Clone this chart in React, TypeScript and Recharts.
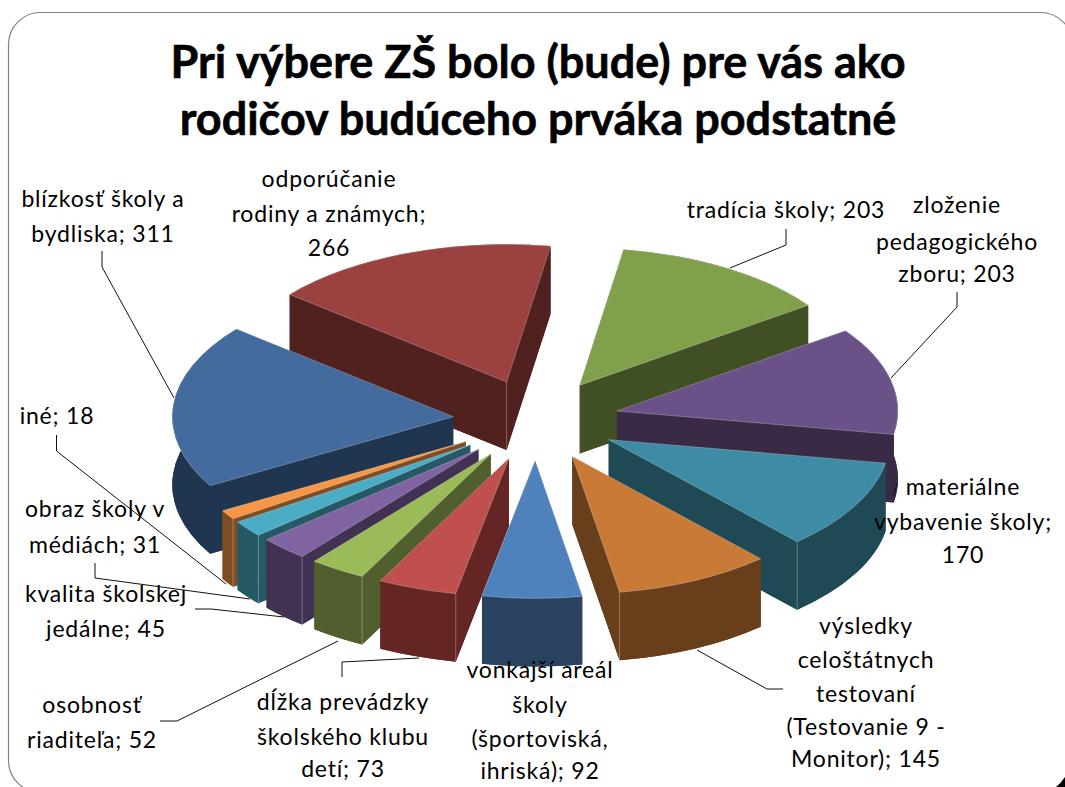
import { PieChart, Pie } from "recharts"

const categories = [
  "tradícia školy",
  "zloženie pedagogického zboru",
  "materiálne vybavenie školy",
  "výsledky celoštátnych testovaní (Testovanie 9 - Monitor)",
  "vonkajší areál školy (športoviská, ihriská)",
  "dĺžka prevádzky školského klubu detí",
  "osobnosť riaditeľa",
  "kvalita školskej jedálne",
  "obraz školy v médiách",
  "iné",
  "blízkosť školy a bydliska",
  "odporúčanie rodiny a známych",
]
const values = [203, 203, 170, 145, 92, 73, 52, 45, 31, 18, 311, 266]

const titleLines = ["Pri výbere ZŠ bolo (bude) pre vás ako", "rodičov budúceho prváka podstatné"]

const labelLines = [
  ["tradícia školy;"],
  ["zloženie", "pedagogického", "zboru;"],
  ["materiálne", "vybavenie školy;", ""],
  ["výsledky", "celoštátnych", "testovaní", "(Testovanie 9 -", "Monitor);"],
  ["vonkajší areál", "školy", "(športoviská,", "ihriská);"],
  ["dĺžka prevádzky", "školského klubu", "detí;"],
  ["osobnosť", "riaditeľa;"],
  ["kvalita školskej", "jedálne;"],
  ["obraz školy v", "médiách;"],
  ["iné;"],
  ["blízkosť školy a", "bydliska;"],
  ["odporúčanie", "rodiny a známych;", ""],
]

// top face / side wall colours, same order as categories
const topColors = ["#80A04B", "#6A5187", "#3E8BA5", "#C97A36", "#4F81BD", "#C0504D", "#9BBB59", "#8064A2", "#4BACC6", "#F79646", "#436B9E", "#9B4140"]
const wallColors = ["#414F24", "#392A46", "#1F4955", "#683E1B", "#29425F", "#632624", "#505F2D", "#413152", "#265966", "#7F4D24", "#203550", "#51211F"]

// back slices first, so the front ones cover them
const paintOrder = [11, 0, 10, 1, 2, 3, 9, 8, 7, 6, 5, 4]

// where each label sits: centre x, baseline of each line
const labelX = [786, 957, 963, 866, 540, 343, 92, 106, 95, 57, 103, 329]
const labelY = [
  [218],
  [213, 250, 282],
  [495, 530, 563],
  [634, 668, 702, 735, 767],
  [678, 713, 747, 779],
  [710, 745, 777],
  [713, 748],
  [602, 637],
  [517, 553],
  [424],
  [207, 242],
  [187, 222, 256],
]
const leaders = [
  "786,229 786,245 730,268",
  "957,292 957,307 891,378",
  "897,483 894,495",
  "783,689 767,689 697,650",
  "",
  "342,677 342,662 419,658",
  "160,721 177,721 338,641",
  "195,609 211,609 284,617",
  "95,563 95,578 250,599",
  "56.5,435 56.5,451 226,584",
  "102,251 102,267 174,398",
  "",
]

const W = 1065
const H = 787
const CX = 536
const CY = 420
const RADIUS = 281
const SQUASH = 0.49
const EXPLODE = 83
const DEPTH = 68
const FONT = "Lato, 'Open Sans', sans-serif"

const chartData = categories.map((name, i) => ({ name, value: values[i], index: i }))

function Slice3D(props: any, only: number) {
  const { cx, cy, outerRadius, startAngle, endAngle, payload } = props
  if (payload.index !== only) return <g />
  const rad = Math.PI / 180
  const mid = ((startAngle + endAngle) / 2) * rad
  const ox = cx + EXPLODE * Math.cos(mid)
  const oy = cy - EXPLODE * Math.sin(mid) * SQUASH
  const rx = outerRadius
  const ry = outerRadius * SQUASH
  const sx = ox + rx * Math.cos(startAngle * rad)
  const sy = oy - ry * Math.sin(startAngle * rad)
  const ex = ox + rx * Math.cos(endAngle * rad)
  const ey = oy - ry * Math.sin(endAngle * rad)
  const large = Math.abs(startAngle - endAngle) > 180 ? 1 : 0

  const wedge = (dy: number) =>
    `M${ox},${oy + dy}L${sx},${sy + dy}A${rx},${ry} 0 ${large} 1 ${ex},${ey + dy}Z`
  const wall = (ax: number, ay: number, bx: number, by: number) =>
    `M${ax},${ay}L${bx},${by}L${bx},${by + DEPTH}L${ax},${ay + DEPTH}Z`
  const rimWall =
    `M${sx},${sy}A${rx},${ry} 0 ${large} 1 ${ex},${ey}L${ex},${ey + DEPTH}` +
    `A${rx},${ry} 0 ${large} 0 ${sx},${sy + DEPTH}Z`

  const wallColor = wallColors[only]
  // the lighter upright edge of the block
  const ridge = Math.cos(mid) < 0 ? [sx, sy] : [ex, ey]

  return (
    <g>
      <path d={wedge(DEPTH)} fill={wallColor} />
      <path d={wall(ox, oy, sx, sy)} fill={wallColor} />
      <path d={wall(ox, oy, ex, ey)} fill={wallColor} />
      <path d={rimWall} fill={wallColor} />
      {Math.sin(mid) < 0 && (
        <line x1={ridge[0]} y1={ridge[1]} x2={ridge[0]} y2={ridge[1] + DEPTH} stroke="#fff" strokeOpacity={0.3} strokeWidth={1} />
      )}
      {Math.sin(mid) > 0.5 && (
        <line x1={ox} y1={oy} x2={ox} y2={oy + DEPTH} stroke="#fff" strokeOpacity={0.3} strokeWidth={1} />
      )}
      <path d={wedge(0)} fill={topColors[only]} stroke="#fff" strokeOpacity={0.35} strokeWidth={0.75} />
    </g>
  )
}

function SliceLabel(props: any) {
  const i = props.index
  const lines = labelLines[i]
  return (
    <g>
      {leaders[i] && <polyline points={leaders[i]} fill="none" stroke="#111" strokeWidth={1} />}
      <text textAnchor="middle" fontFamily={FONT} fontSize={23} letterSpacing={0.8} fill="#000">
        {lines.map((line, k) => (
          <tspan key={k} x={labelX[i]} y={labelY[i][k]}>
            {k === lines.length - 1 ? `${line}${line ? " " : ""}${values[i]}` : line}
          </tspan>
        ))}
      </text>
    </g>
  )
}

export default function App() {
  return (
    <div style={{ position: "absolute", left: 0, top: 0, width: W, height: H, overflow: "hidden", background: "#fff" }}>
      <PieChart width={W} height={H} margin={{ top: 0, right: 0, bottom: 0, left: 0 }}>
        <rect x={8.5} y={12.5} width={1064} height={780} rx={32} fill="#fff" stroke="#808080" strokeWidth={1.2} />
        <path d="M1065,777L1065,787L1056,787Q1061,783 1065,777Z" fill="#000" />
        {titleLines.map((t, i) => (
          <text key={t} x={538} y={78 + i * 57} textAnchor="middle" fontFamily={FONT} fontWeight={700} fontSize={45} stroke="#000" strokeWidth={0.6} fill="#000">
            {t}
          </text>
        ))}
        {paintOrder.map((idx) => (
          <Pie
            key={idx}
            data={chartData}
            dataKey="value"
            nameKey="name"
            cx={CX}
            cy={CY}
            innerRadius={0}
            outerRadius={RADIUS}
            startAngle={81}
            endAngle={-279}
            paddingAngle={0}
            isAnimationActive={false}
            shape={(p: any) => Slice3D(p, idx)}
            stroke="none"
            label={idx === paintOrder[paintOrder.length - 1] ? SliceLabel : false}
            labelLine={false}
          />
        ))}
      </PieChart>
    </div>
  )
}
